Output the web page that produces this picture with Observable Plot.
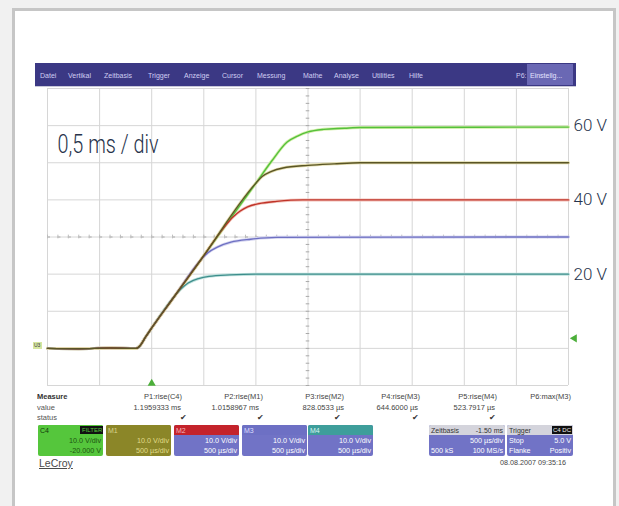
<!DOCTYPE html>
<html><head><meta charset="utf-8">
<script src="https://cdn.jsdelivr.net/npm/d3@7"></script>
<script src="https://cdn.jsdelivr.net/npm/@observablehq/plot@0.6"></script>
<style>
html,body{margin:0;padding:0;background:#f1f1f1;}
#page{position:relative;width:619px;height:506px;overflow:hidden;font-family:"Liberation Sans",Arial,sans-serif;}
#frame{position:absolute;left:12px;top:8px;width:598px;height:530px;border:3px solid #c6c6c6;background:#fff;}
#chart{position:absolute;left:0;top:0;}
.abs{position:absolute;white-space:nowrap;line-height:1;}
</style></head>
<body><div id="page"><div id="frame"></div><div id="chart"></div></div>
<script>
// ---- data ----
const timeTicks = [0, 0.5, 1, 1.5, 2, 2.5, 3, 3.5, 4, 4.5, 5];      // ms (0,5 ms / div)
const voltTicks = [-10, 0, 10, 20, 30, 40, 50, 60, 70];             // V (10 V / div)
const voltLabelValues = [20, 40, 60];
const voltLabels = ["20 V", "40 V", "60 V"];
const scaleNote = "0,5 ms / div";
const triggerTime = 1.0;     // ms
const triggerMarkLevel = 2.7; // V (display position of trigger level arrow)

// [time ms, volts]
const commonRise = [[0,0],[0.3,-0.1],[0.6,0.1],[0.85,0],[0.89,0.8],[0.94,3],[1.0,5.5]];
const traceM4 = [[1.22,14.1],[1.28,16.0],[1.35,17.6],[1.45,18.8],[1.55,19.4],[1.75,19.8],[2.0,20],[5,20]];
const traceM3 = [[1.21,13.7],[1.47,23.8],[1.54,25.8],[1.63,27.3],[1.76,28.6],[1.95,29.4],[2.2,29.9],[5,30]];
const traceM2 = [[1.21,13.7],[1.47,23.8],[1.70,32.8],[1.78,35.4],[1.85,37.0],[1.92,38.1],[2.03,39.0],[2.2,39.6],[2.45,40],[5,40]];
const traceM1 = [[1.21,13.7],[1.47,23.8],[2.0,44.5],[2.06,46.3],[2.15,47.7],[2.26,48.6],[2.50,49.3],[2.75,49.7],[3.0,50],[5,50]];
const traceC4 = [[1.21,13.7],[1.47,23.8],[2.0,44.5],[2.15,50.4],[2.30,55.6],[2.40,57.2],[2.50,58.3],[2.65,59.0],[2.85,59.3],[3.0,59.5],[5,59.6]];

const seriesNames = ["C4","M4","M3","M2","M1"];
const seriesColors = {C4:"#55c03c", M1:"#5a5526", M2:"#bf3328", M3:"#6e70c2", M4:"#3e8e8c"};
const seriesHalo = {C4:"#d2efa8", M1:"#e0daa8", M2:"#f2c0b8", M3:"#d4d4f0", M4:"#c0e2de"};

const menuItems = ["Datei","Vertikal","Zeitbasis","Trigger","Anzeige","Cursor","Messung","Mathe","Analyse","Utilities","Hilfe"];
const measureParams = ["P1:rise(C4)","P2:rise(M1)","P3:rise(M2)","P4:rise(M3)","P5:rise(M4)","P6:max(M3)"];
const measureValues = ["1.1959333 ms","1.0158967 ms","828.0533 µs","644.6000 µs","523.7917 µs",""];
const measureStatus = [true,true,true,true,true,false];
const channelNames = ["C4","M1","M2","M3","M4"];
const channelLine1 = ["10.0 V/div","10.0 V/div","10.0 V/div","10.0 V/div","10.0 V/div"];
const channelLine2 = ["-20.000 V","500 µs/div","500 µs/div","500 µs/div","500 µs/div"];
const dateText = "08.08.2007 09:35:16";

// ---- build rows ----
const rows = [];
const traces = {C4: traceC4, M1: traceM1, M2: traceM2, M3: traceM3, M4: traceM4};
for (const s of seriesNames) {
  for (const [t, v] of commonRise.concat(traces[s])) rows.push({series: s, t, v});
}
const timeMinorCenter = d3.range(0, 5.001, 0.1);
const voltMinorCenter = d3.range(-10, 70.001, 2);

const chart = Plot.plot({
  width: 619, height: 506,
  marginLeft: 47, marginRight: 51, marginTop: 88, marginBottom: 121,
  style: {background: "transparent", overflow: "visible"},
  x: {domain: [0, 5], axis: null},
  y: {domain: [-10, 70], axis: null},
  marks: [
    Plot.ruleX(timeTicks, {stroke: "#d6d6d6", strokeWidth: 1}),
    Plot.ruleY(voltTicks, {stroke: "#d6d6d6", strokeWidth: 1}),
    Plot.ruleY([30], {stroke: "#a9a9a9", strokeWidth: 1, strokeDasharray: "3,7.42"}),
    Plot.ruleY(voltMinorCenter, {x1: 2.483, x2: 2.517, stroke: "#a9a9a9"}),
    Plot.ruleX(timeMinorCenter, {y1: 29.5, y2: 30.5, stroke: "#bdbdbd"}),
    ...seriesNames.map(s => Plot.line(rows.filter(r => r.series === s), {x: "t", y: "v", stroke: seriesHalo[s], strokeWidth: 3, curve: "monotone-x"})),
    ...seriesNames.map(s => Plot.line(rows.filter(r => r.series === s), {x: "t", y: "v", stroke: seriesColors[s], strokeWidth: 1.4, curve: "monotone-x"})),
    Plot.text(voltLabelValues, {x: 5, y: d => d, text: (d, i) => voltLabels[i], textAnchor: "start", dx: 5, fontSize: 17, fill: "#27334b", fontFamily: "Roboto, sans-serif", fontWeight: 300}),
    Plot.text([scaleNote], {frameAnchor: "top-left", dx: 10, dy: 56, lineAnchor: "middle", textAnchor: "start", fontSize: 25, fontWeight: 300, fill: "#27334b", fontFamily: "Roboto, sans-serif"}),
    Plot.dot([triggerTime], {x: d => d, frameAnchor: "bottom", dy: -2, symbol: "triangle", r: 3, fill: "#4caf3a", stroke: "none"}),
    Plot.dot([triggerMarkLevel], {y: d => d, frameAnchor: "right", dx: 6, symbol: "triangle", rotate: -90, r: 3, fill: "#4caf3a", stroke: "none"})
  ]
});
document.getElementById("chart").appendChild(chart);
// condense the annotation font (original uses a condensed face)
d3.select(chart).selectAll("text").each(function() {
  if (this.textContent === scaleNote) { this.setAttribute("textLength", 101); this.setAttribute("lengthAdjust", "spacingAndGlyphs"); }
});

// ---- oscilloscope chrome (HTML) ----
const page = document.getElementById("page");
function box(x, y, w, h, bg, extra) {
  const d = document.createElement("div");
  d.className = "abs";
  Object.assign(d.style, {left: x + "px", top: y + "px", width: w + "px", height: h + "px", background: bg}, extra || {});
  page.appendChild(d); return d;
}
function txt(s, x, y, size, color, opts) {
  const d = document.createElement("div");
  d.className = "abs"; d.textContent = s;
  opts = opts || {};
  const st = {top: (y - size / 2) + "px", fontSize: size + "px", color: color};
  if (opts.right) st.right = (619 - x) + "px"; else st.left = x + "px";
  if (opts.bold) st.fontWeight = "bold";
  if (opts.underline) st.textDecoration = "underline";
  Object.assign(d.style, st);
  page.appendChild(d); return d;
}
// menu bar
box(35, 63, 541, 23, "#3b3884");
box(35, 86, 541, 1, "#c8c8d8");
const menuX = [40, 68, 104, 148, 184, 222, 257, 303, 334, 372, 409];
menuItems.forEach((m, i) => txt(m, menuX[i], 75, 7, "#cfcdf2"));
txt("P6:", 516, 75, 7, "#cfcdf2");
box(527, 64, 46, 21, "#6a68b4");
txt("Einstellg...", 530, 75, 7, "#e4e3ff");
// trace label on the left
box(33, 342, 9, 7, "#d6e6a0");
txt("U3", 34, 345.5, 5, "#334");

// measure table
txt("Measure", 37, 397, 7.5, "#333", {bold: true});
txt("value", 37, 407.5, 7.5, "#555");
txt("status", 37, 417.5, 7.5, "#555");
const paramRight = [182, 263, 344, 420, 497, 571];
const valueRight = [181, 259, 344, 418, 495, 571];
const checkX = [180, 257, 334, 412, 489];
measureParams.forEach((p, i) => txt(p, paramRight[i], 397, 7.5, "#444", {right: true}));
measureValues.forEach((v, i) => { if (v) txt(v, valueRight[i], 407.5, 7.5, "#444", {right: true}); });
measureStatus.forEach((s, i) => { if (s) txt("✔", checkX[i], 418, 8, "#333"); });

// channel boxes
const chX = [38, 106, 174, 242, 308];
const chBand = ["#55c63c", "#8b8628", "#c4232b", "#6d70c4", "#3e9e9b"];
const chBody = ["#55c63c", "#8b8628", "#7173c6", "#7173c6", "#7173c6"];
const chText = ["#1d5412", "#e0dc8a", "#ffffff", "#ffffff", "#ffffff"];
const chLabel = ["#123a0c", "#d8d48a", "#f3b8b8", "#dcdcff", "#d8f4f2"];
channelNames.forEach((c, i) => {
  const w = 65;
  box(chX[i], 425, w, 31, chBody[i], {borderRadius: "2px"});
  box(chX[i], 425, w, 10, chBand[i], {borderRadius: "2px 2px 0 0"});
  txt(c, chX[i] + 2, 430, 7, chLabel[i]);
  txt(channelLine1[i], chX[i] + w - 2, 441, 7.2, chText[i], {right: true});
  txt(channelLine2[i], chX[i] + w - 2, 450.5, 7.2, chText[i], {right: true});
});
// C4 tag
box(80, 426, 23, 8, "#111");
txt("FILTER", 82, 430, 6, "#55c63c");
// Zeitbasis box
box(429, 425, 76, 31, "#7173c6", {borderRadius: "2px"});
box(429, 425, 76, 10, "#d4d4dc", {borderRadius: "2px 2px 0 0"});
txt("Zeitbasis", 431, 430, 7, "#333");
txt("-1.50 ms", 503, 430, 7, "#333", {right: true});
txt("500 µs/div", 503, 441, 7.2, "#fff", {right: true});
txt("500 kS", 431, 450.5, 7.2, "#fff");
txt("100 MS/s", 503, 450.5, 7.2, "#fff", {right: true});
// Trigger box
box(507, 425, 66, 31, "#7173c6", {borderRadius: "2px"});
box(507, 425, 66, 10, "#d4d4dc", {borderRadius: "2px 2px 0 0"});
txt("Trigger", 509, 430, 7, "#333");
box(552, 426, 20, 8, "#111");
txt("C4 DC", 553, 430, 6, "#eee");
txt("Stop", 509, 441, 7.2, "#fff");
txt("5.0 V", 571, 441, 7.2, "#fff", {right: true});
txt("Flanke", 509, 450.5, 7.2, "#fff");
txt("Positiv", 571, 450.5, 7.2, "#fff", {right: true});
// footer
txt(dateText, 566, 463, 7.2, "#444", {right: true});
txt("LeCroy", 39, 463.5, 10.5, "#4a4a4a", {underline: true});
</script>
</body></html>
